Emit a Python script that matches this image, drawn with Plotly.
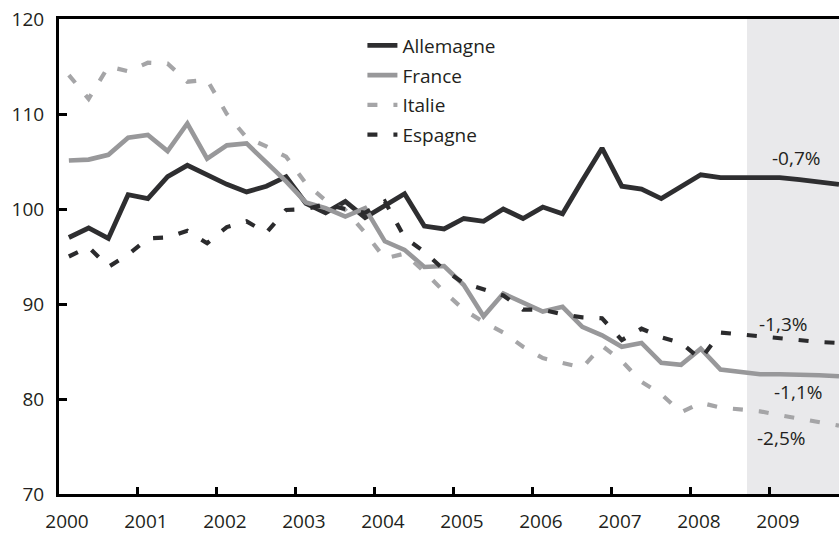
import plotly.graph_objects as go

# ---- data -------------------------------------------------------------
quarters = [f"{y}T{q}" for y in range(2000, 2010) for q in range(1, 5)]

allemagne = [97.0, 98.0, 96.9, 101.5, 101.1, 103.4, 104.6, 103.6, 102.6, 101.8,
             102.4, 103.4, 100.6, 99.6, 100.8, 99.1, 100.4, 101.6, 98.2, 97.9,
             99.0, 98.7, 100.0, 99.0, 100.2, 99.5, 103.0, 106.4, 102.4, 102.1,
             101.1, 102.3, 103.6, 103.3, 103.3, 103.3, 103.3, 103.1, 102.9, 102.6]

france = [105.1, 105.2, 105.7, 107.5, 107.8, 106.1, 109.0, 105.3, 106.7, 106.9,
          104.9, 102.9, 100.7, 100.1, 99.2, 100.1, 96.6, 95.7, 93.9, 94.0,
          92.0, 88.7, 91.1, 90.2, 89.2, 89.7, 87.6, 86.7, 85.5, 85.9,
          83.8, 83.6, 85.3, 83.1, 82.8, 82.6, 82.6, 82.6, 82.5, 82.4]

italie = [114.1, 111.6, 115.0, 114.5, 115.4, 115.3, 113.4, 113.6, 110.0, 107.5,
          106.6, 105.5, 102.7, 100.9, 99.9, 97.5, 94.8, 95.3, 93.4, 91.3,
          89.4, 88.1, 87.0, 85.5, 84.3, 83.8, 83.3, 85.6, 84.0, 81.8,
          80.5, 78.6, 79.6, 79.1, 78.9, 78.7, 78.3, 77.9, 77.5, 77.2]

espagne = [95.0, 96.0, 93.9, 95.2, 96.9, 97.0, 97.7, 96.4, 98.1, 98.7,
           97.5, 99.9, 100.0, 100.5, 100.0, 99.6, 100.8, 97.0, 95.5, 93.6,
           92.2, 91.5, 90.9, 89.4, 89.4, 88.9, 88.6, 88.5, 86.2, 87.4,
           86.5, 85.9, 84.2, 87.0, 86.8, 86.5, 86.3, 86.1, 86.0, 85.9]

series_names = ["Allemagne", "France", "Italie", "Espagne"]
year_ticks = list(range(2000, 2010))
year_labels = [str(y) for y in year_ticks]

growth_labels = ["-0,7%", "-1,3%", "-1,1%", "-2,5%"]
growth_pos_x = [2009.33, 2009.16, 2009.36, 2009.14]
growth_pos_y = [105.4, 87.9, 80.7, 75.9]

forecast_start = 2008.71
x_end = 2009.875


def qpos(label):
    y, q = label.split("T")
    return int(y) + (int(q) - 0.5) / 4


x = [qpos(q) for q in quarters]

# ---- styles -----------------------------------------------------------
FONT = "Open Sans"
styles = {
    "Allemagne": dict(color="#2e2e30", width=4.8, dash="solid"),
    "France": dict(color="#98989a", width=4.6, dash="solid"),
    "Italie": dict(color="#a5a5a7", width=4.2, dash="10px,16px"),
    "Espagne": dict(color="#2b2b2d", width=4.2, dash="10px,16px"),
}
values = {"Allemagne": allemagne, "France": france, "Italie": italie, "Espagne": espagne}

fig = go.Figure()
for name in series_names:
    fig.add_trace(go.Scatter(
        x=x, y=values[name], mode="lines", name=name,
        line=styles[name], legendgroup=name,
    ))

fig.add_vrect(x0=forecast_start, x1=x_end, fillcolor="#e9e9eb",
              line_width=0, layer="below")

for t, gx, gy in zip(growth_labels, growth_pos_x, growth_pos_y):
    fig.add_annotation(x=gx, y=gy, text=t, showarrow=False,
                       font=dict(family=FONT, size=19, color="#231f20"))

fig.update_layout(
    width=839, height=533,
    margin=dict(l=59, r=0, t=19, b=39),
    paper_bgcolor="white", plot_bgcolor="white",
    font=dict(family=FONT, size=19, color="#231f20"),
    showlegend=True,
    legend=dict(x=0.389, y=0.984, xanchor="left", yanchor="top",
                bgcolor="rgba(0,0,0,0)", tracegroupgap=2,
                traceorder="grouped",
                font=dict(family=FONT, size=19, color="#231f20")),
)
fig.update_xaxes(
    range=[2000, x_end], tickmode="array", tickvals=year_ticks, ticktext=year_labels,
    ticks="inside", ticklen=7, tickwidth=2.5, tickcolor="black",
    showline=True, linewidth=3, linecolor="black", mirror=True,
    showgrid=False, zeroline=False, ticklabelshift=8, ticklabelstandoff=8,
)
fig.update_yaxes(
    range=[70, 120], tickmode="array", tickvals=[70, 80, 90, 100, 110, 120],
    ticks="inside", ticklen=8, tickwidth=2.5, tickcolor="black",
    showline=True, linewidth=3, linecolor="black", mirror=False,
    showgrid=False, zeroline=False, ticklabelstandoff=8,
)

fig.write_html("out.html",
               config={"displayModeBar": False},
               post_script="document.body.style.margin='0';"
                           "document.body.style.padding='0';")
